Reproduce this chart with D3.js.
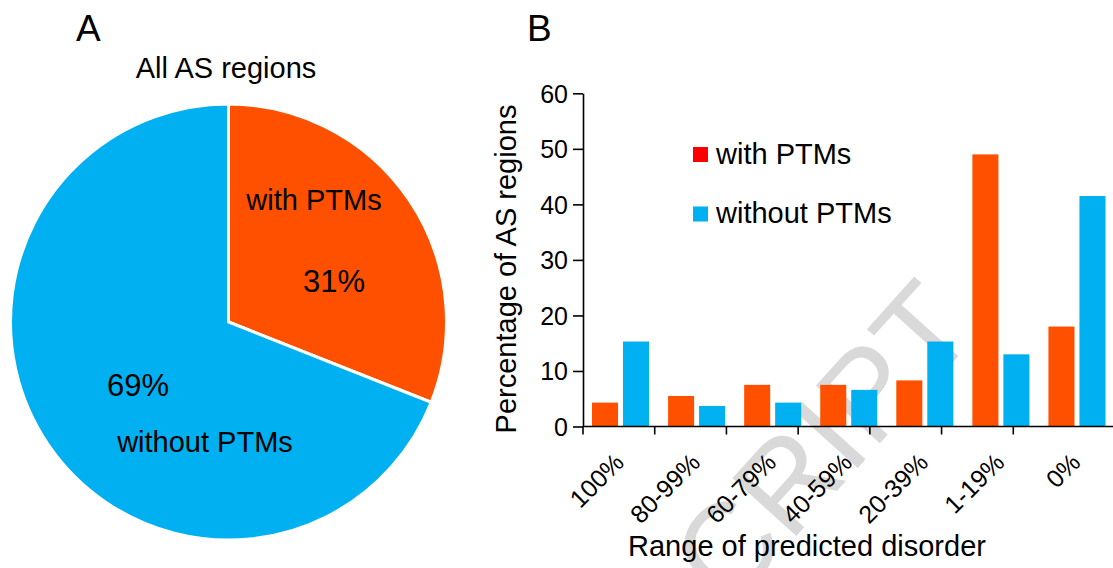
<!DOCTYPE html>
<html>
<head>
<meta charset="utf-8">
<script src="https://cdn.jsdelivr.net/npm/d3@7"></script>
<style>
  body { margin: 0; background: #fff; }
  text { font-family: "Liberation Sans", Arial, sans-serif; fill: #000; }
</style>
</head>
<body>
<div id="graph"></div>
<script>
// pie data
let pieCats = ["with PTMs", "without PTMs"];
let pieVals = [31, 69];

// bar data
let categories = ["100%", "80-99%", "60-79%", "40-59%", "20-39%", "1-19%", "0%"];
let series = ["with PTMs", "without PTMs"];
let withPTMs = [4.3, 5.5, 7.5, 7.5, 8.3, 49, 18];
let withoutPTMs = [15.3, 3.7, 4.3, 6.6, 15.3, 13, 41.5];
let yTicks = [0, 10, 20, 30, 40, 50, 60];

let orange = "#ff5000", blue = "#00b0f0";

let svg = d3.select("#graph")
    .append("svg")
    .attr("width", 1113)
    .attr("height", 568);

// watermark, behind everything
svg.append("text")
    .attr("transform", "translate(980,332) rotate(-48)")
    .attr("text-anchor", "end")
    .style("font-size", "125px")
    .style("fill", "#d9d9d9")
    .text("ACCEPTED MANUSCRIPT");

// ---------- A : pie ----------
svg.append("text").attr("x", 76).attr("y", 41).style("font-size", "37px").text("A");
svg.append("text").attr("x", 226).attr("y", 78).attr("text-anchor", "middle")
    .style("font-size", "29px").text("All AS regions");

let pieG = svg.append("g").attr("transform", "translate(228.5,322)");
let pie = d3.pie().sort(null)(pieVals);
let arc = d3.arc().innerRadius(0).outerRadius(218);
pieG.selectAll("path")
    .data(pie)
    .enter()
    .append("path")
    .attr("d", arc)
    .style("fill", (d, i) => i == 0 ? orange : blue)
    .attr("stroke", "#fff")
    .attr("stroke-width", 3);

svg.append("text").attr("x", 314).attr("y", 210).attr("text-anchor", "middle")
    .style("font-size", "29px").text(pieCats[0]);
svg.append("text").attr("x", 334).attr("y", 292).attr("text-anchor", "middle")
    .style("font-size", "31px").text(pieVals[0] + "%");
svg.append("text").attr("x", 138).attr("y", 396).attr("text-anchor", "middle")
    .style("font-size", "31px").text(pieVals[1] + "%");
svg.append("text").attr("x", 205).attr("y", 452).attr("text-anchor", "middle")
    .style("font-size", "29px").text(pieCats[1]);

// ---------- B : bars ----------
svg.append("text").attr("x", 527).attr("y", 41).style("font-size", "37px").text("B");

let y = d3.scaleLinear().domain([0, 60]).range([426.5, 93.3]);
let x0 = d3.scaleBand().domain(categories).range([582.5, 1115])
    .paddingInner(0.25).paddingOuter(0.125);
let x1 = d3.scaleBand().domain(series).range([0, x0.bandwidth()]).paddingInner(0.16);
// tick marks of the original sit on a slightly narrower grid than the bars
let xt = d3.scaleBand().domain(categories).range([583, 1085]);

let rows = categories.map((c, i) => ({cat: c, vals: [withPTMs[i], withoutPTMs[i]]}));

svg.append("g")
    .selectAll("g")
    .data(rows)
    .enter()
    .append("g")
    .attr("transform", d => "translate(" + x0(d.cat) + ",0)")
    .selectAll("rect")
    .data(d => d.vals.map((v, j) => ({s: series[j], v: v})))
    .enter()
    .append("rect")
    .attr("x", d => x1(d.s))
    .attr("width", x1.bandwidth())
    .attr("y", d => y(d.v))
    .attr("height", d => y(0) - y(d.v))
    .style("fill", d => d.s == series[0] ? orange : blue);

// y axis
let yAxis = svg.append("g")
    .attr("transform", "translate(583,0)")
    .call(d3.axisLeft(y).tickValues(yTicks).tickSize(10).tickPadding(5).tickSizeOuter(0));
yAxis.selectAll("line, path").attr("stroke", "#000").attr("stroke-width", 1.6);
yAxis.selectAll("text").style("font-size", "25px").attr("dy", "0.36em");

// x axis
svg.append("line")
    .attr("x1", 583).attr("x2", 1113)
    .attr("y1", y(0)).attr("y2", y(0))
    .attr("stroke", "#000").attr("stroke-width", 1.6);
svg.append("g")
    .selectAll("line")
    .data(categories)
    .enter()
    .append("line")
    .attr("x1", d => xt(d)).attr("x2", d => xt(d))
    .attr("y1", y(0)).attr("y2", y(0) + 8)
    .attr("stroke", "#000").attr("stroke-width", 1.6);
svg.append("g")
    .selectAll("text")
    .data(categories)
    .enter()
    .append("text")
    .attr("transform", d => "translate(" + (x0(d) + x0.bandwidth() / 2 + 5) + ",464) rotate(-45)")
    .attr("text-anchor", "end")
    .style("font-size", "25px")
    .text(d => d);

svg.append("text").attr("x", 807).attr("y", 556).attr("text-anchor", "middle")
    .style("font-size", "29px").text("Range of predicted disorder");
svg.append("text")
    .attr("transform", "translate(516,269) rotate(-90)")
    .attr("text-anchor", "middle")
    .style("font-size", "29px")
    .text("Percentage of AS regions");

// legend
let legend = svg.append("g")
    .selectAll("g")
    .data(series)
    .enter()
    .append("g")
    .attr("transform", (d, i) => "translate(693," + (147 + i * 59.5) + ")");
legend.append("rect")
    .attr("width", 15).attr("height", 15)
    .style("fill", (d, i) => i == 0 ? "#ff0000" : blue);
legend.append("text")
    .attr("x", 23).attr("y", 16.5)
    .style("font-size", "29px")
    .text(d => d);
</script>
</body>
</html>
